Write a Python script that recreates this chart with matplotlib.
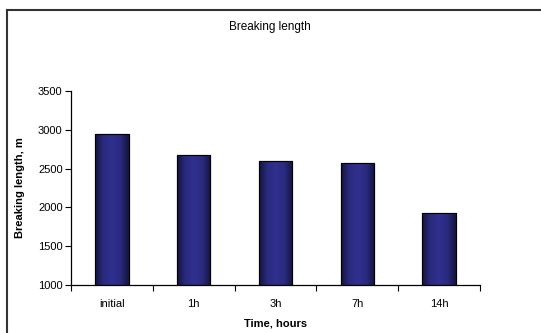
import numpy as np
import matplotlib
matplotlib.use("Agg")
import matplotlib.pyplot as plt
from matplotlib.lines import Line2D
from matplotlib.colors import LinearSegmentedColormap

categories = ["initial", "1h", "3h", "7h", "14h"]
values = [2940, 2670, 2600, 2575, 1930]
yticks = [1000, 1500, 2000, 2500, 3000, 3500]

plt.rcParams['font.family'] = ['Liberation Sans', 'DejaVu Sans']

W, H = 541, 333
fig = plt.figure(figsize=(W / 100, H / 100), dpi=100)
ax = fig.add_axes([71 / W, 1 - 285 / H, (480 - 71) / W, (285 - 91) / H])

x = np.arange(len(categories))
bars = ax.bar(x, values, width=0.41, bottom=0, color='#2E2E8A',
              edgecolor='#000000', linewidth=0.8, zorder=2)

cmap = LinearSegmentedColormap.from_list(
    'grad', ['#14143C', '#2A2A80', '#30308F', '#2A2A80', '#14143C'])
grad = np.linspace(0, 1, 256).reshape(1, -1)
for b in bars:
    x0, w = b.get_x(), b.get_width()
    im = ax.imshow(grad, cmap=cmap, aspect='auto',
                   extent=[x0, x0 + w, 1000, b.get_height()],
                   zorder=2.5, interpolation='bilinear')
    im.set_clip_path(b)
    edge = plt.Rectangle((x0, 1000), w, b.get_height() - 1000, fill=False,
                         edgecolor='#000000', linewidth=0.8, zorder=3)
    ax.add_patch(edge)

ax.set_xlim(-0.5, len(categories) - 0.5)
ax.set_ylim(1000, 3500)
ax.set_yticks(yticks)
ax.set_yticklabels([str(t) for t in yticks], fontsize=8)
ax.set_xticks(x)
ax.set_xticklabels(categories, fontsize=8)
ax.tick_params(axis='x', which='major', length=0, pad=10)
ax.set_xticks(np.arange(-0.5, len(categories)), minor=True)
ax.tick_params(axis='x', which='minor', length=4, width=0.8, direction='out')
ax.tick_params(axis='y', length=4, width=0.8, direction='out', pad=2)

for s in ['top', 'right']:
    ax.spines[s].set_visible(False)
for s in ['left', 'bottom']:
    ax.spines[s].set_linewidth(0.9)

ax.set_xlabel("Time, hours", fontsize=8, fontweight='bold', labelpad=7)
ax.set_ylabel("Breaking length, m", fontsize=8, fontweight='bold', labelpad=9.5)
fig.text(270 / W, 1 - 27 / H, "Breaking length", fontsize=8.5,
         ha='center', va='center')

fig.add_artist(Line2D([7 / W, 7 / W], [0, 1 - 9.5 / H], transform=fig.transFigure,
                      color='#333333', linewidth=1.5))
fig.add_artist(Line2D([7 / W, 1], [1 - 9.5 / H, 1 - 9.5 / H], transform=fig.transFigure,
                      color='#333333', linewidth=1.5))

fig.savefig("out.png", dpi=100)
